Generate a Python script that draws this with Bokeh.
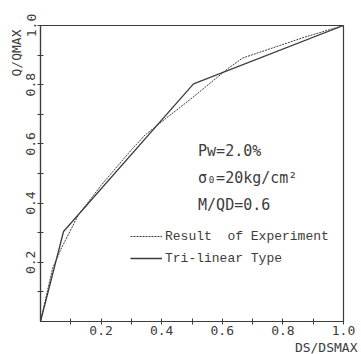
from bokeh.plotting import figure
from bokeh.models import Legend, LegendItem, FixedTicker, PrintfTickFormatter, Title, Label
from bokeh.embed import file_html
from bokeh.resources import INLINE

# Normalised load-deformation data (DS/DSMAX, Q/QMAX)
exp_ds = [0.0, 0.04, 0.07, 0.125, 0.2, 0.3, 0.345, 0.4, 0.5, 0.617, 0.667, 0.87, 1.0]
exp_q = [0.0, 0.18, 0.25, 0.36, 0.46, 0.58, 0.63, 0.675, 0.755, 0.853, 0.89, 0.96, 1.0]

tri_ds = [0.0, 0.076, 0.505, 1.0]
tri_q = [0.0, 0.304, 0.803, 1.0]

major_ticks = [0.2, 0.4, 0.6, 0.8, 1.0]
minor_ticks = [0.1, 0.3, 0.5, 0.7, 0.9]

conditions = ["Pw=2.0%", "σ₀=20kg/cm²", "M/QD=0.6"]
cond_y = [0.575, 0.485, 0.395]

TICK_FONT = "DejaVu Sans Mono"
INK = "#3c3c3c"

p = figure(width=361, height=354, output_backend="svg", toolbar_location=None,
           x_range=(0, 1), y_range=(0, 1),
           min_border_left=40, min_border_right=18, min_border_top=25, min_border_bottom=20)
p.background_fill_color = "white"
p.border_fill_color = "white"
p.grid.visible = False
p.outline_line_color = INK
p.outline_line_width = 1.2

for ax in (p.xaxis[0], p.yaxis[0]):
    ax.ticker = FixedTicker(ticks=major_ticks, minor_ticks=minor_ticks)
    ax.formatter = PrintfTickFormatter(format="%.1f")
    ax.axis_line_color = INK
    ax.axis_line_width = 1.2
    ax.major_tick_line_color = INK
    ax.minor_tick_line_color = INK
    ax.major_tick_in = 3
    ax.major_tick_out = 3
    ax.minor_tick_in = 3
    ax.minor_tick_out = 3
    ax.major_label_text_font = TICK_FONT
    ax.major_label_text_font_size = "13px"
    ax.major_label_text_color = INK

p.xaxis.major_label_standoff = 1
p.yaxis.major_label_standoff = 2
p.yaxis.major_label_orientation = "vertical"

r_exp = p.line(exp_ds, exp_q, line_color=INK, line_width=1.0, line_dash="2 1")
r_tri = p.line(tri_ds, tri_q, line_color=INK, line_width=1.3)

legend = Legend(items=[LegendItem(label="Result  of Experiment", renderers=[r_exp]),
                       LegendItem(label="Tri-linear Type", renderers=[r_tri])],
                location=(90, 53), padding=0, margin=0, spacing=2,
                glyph_width=32, glyph_height=20, label_height=20, label_standoff=3,
                border_line_color=None, background_fill_alpha=0,
                label_text_font="Liberation Mono", label_text_font_size="13px",
                label_text_color=INK)
p.add_layout(legend)

for txt, yy in zip(conditions, cond_y):
    p.add_layout(Label(x=0.52, y=yy, text=txt, text_font=TICK_FONT, text_font_size="15px",
                       text_color=INK, text_baseline="middle", text_align="left"))

# Axis titles placed at the far ends of their axes
p.add_layout(Title(text="Q/QMAX", align="right", offset=4, standoff=0,
                   text_font=TICK_FONT, text_font_size="13px", text_font_style="normal",
                   text_color=INK), "left")
p.add_layout(Title(text="DS/DSMAX", align="right", offset=-14, standoff=0,
                   text_font=TICK_FONT, text_font_size="13px", text_font_style="normal",
                   text_color=INK), "below")

open("out.html", "w").write(file_html(p, INLINE))
